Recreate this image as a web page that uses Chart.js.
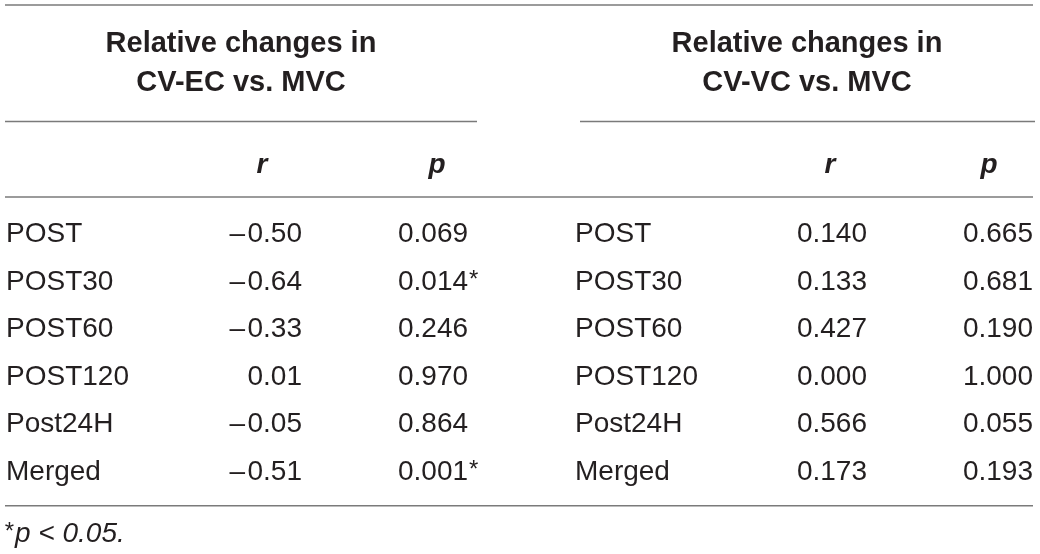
<!DOCTYPE html>
<html>
<head>
<meta charset="utf-8">
<script src="https://cdn.jsdelivr.net/npm/chart.js@4/dist/chart.umd.min.js"></script>
<style>
  html, body { margin: 0; padding: 0; background: #ffffff; }
  #wrap { width: 1040px; height: 554px; position: relative; }
</style>
</head>
<body>
<div id="wrap"><canvas id="tableChart"></canvas></div>
<script>
const rowLabels = ["POST", "POST30", "POST60", "POST120", "Post24H", "Merged"];
const groupTitles = [
  ["Relative changes in", "CV-EC vs. MVC"],
  ["Relative changes in", "CV-VC vs. MVC"]
];
const columnHeads = ["r", "p"];
const ecR = [-0.50, -0.64, -0.33, 0.01, -0.05, -0.51];
const ecP = [0.069, 0.014, 0.246, 0.970, 0.864, 0.001];
const vcR = [0.140, 0.133, 0.427, 0.000, 0.566, 0.173];
const vcP = [0.665, 0.681, 0.190, 1.000, 0.055, 0.193];
const alpha = 0.05;
const footnote = "p < 0.05.";

const ink = "#231f20";
const rule = "#7a7a7a";
const face = "'Liberation Sans', Arial, Helvetica, sans-serif";

// column anchors (x) and row positions (y, in row units) of the layout
const colX = { labelL: 6, rL: 302, pL: 398, labelR: 575, rR: 867, pR: 1033 };
const headX = { groupL: 241, groupR: 807, rL: 262, pL: 437, rR: 830, pR: 989 };
const rowY = { title1: -3.99, title2: -3.17, heads: -1.45, foot: 6.30 };
const ruleY = { top: -4.98, under: -2.53, heads: -0.945, bottom: 5.54 };

const fmtR = (v) => (v < 0 ? "\u2013\u200a" : "") + Math.abs(v).toFixed(2);
const fmtR3 = (v) => v.toFixed(3);
const fmtP = (v) => v.toFixed(3);
const rows = rowLabels.map((_, i) => i);

function textSet(x, ys, texts, font, align, stars) {
  return {
    type: "scatter",
    data: ys.map((y) => ({ x: x, y: y })),
    texts: texts,
    font: font,
    align: align,
    stars: stars || null,
    pointRadius: 0,
    pointHoverRadius: 0
  };
}

function hRule(x0, x1, y) {
  return {
    type: "line",
    data: [{ x: x0, y: y }, { x: x1, y: y }],
    borderColor: rule,
    borderWidth: 1.5,
    pointRadius: 0,
    pointHoverRadius: 0,
    fill: false
  };
}

const plain = "28px " + face;
const bold = "bold 29px " + face;
const boldItalic = "italic bold 28px " + face;
const italic = "italic 28px " + face;

const datasets = [
  hRule(5, 1033, ruleY.top),
  hRule(5, 477, ruleY.under),
  hRule(580, 1035, ruleY.under),
  hRule(5, 1033, ruleY.heads),
  hRule(5, 1033, ruleY.bottom),

  textSet(headX.groupL, [rowY.title1, rowY.title2], groupTitles[0], bold, "center"),
  textSet(headX.groupR, [rowY.title1, rowY.title2], groupTitles[1], bold, "center"),
  textSet(headX.rL, [rowY.heads], [columnHeads[0]], boldItalic, "center"),
  textSet(headX.pL, [rowY.heads], [columnHeads[1]], boldItalic, "center"),
  textSet(headX.rR, [rowY.heads], [columnHeads[0]], boldItalic, "center"),
  textSet(headX.pR, [rowY.heads], [columnHeads[1]], boldItalic, "center"),

  textSet(colX.labelL, rows, rowLabels, plain, "left"),
  textSet(colX.rL, rows, ecR.map(fmtR), plain, "right"),
  textSet(colX.pL, rows, ecP.map(fmtP), plain, "left", ecP.map((v) => v < alpha)),
  textSet(colX.labelR, rows, rowLabels, plain, "left"),
  textSet(colX.rR, rows, vcR.map(fmtR3), plain, "right"),
  textSet(colX.pR, rows, vcP.map(fmtP), plain, "right", vcP.map((v) => v < alpha)),

  Object.assign(textSet(15, [rowY.foot], [footnote], italic, "left"), { lead: "*" })
];

const tableText = {
  id: "tableText",
  afterDatasetsDraw(chart) {
    const ctx = chart.ctx;
    chart.data.datasets.forEach((ds, i) => {
      if (!ds.texts) return;
      const meta = chart.getDatasetMeta(i);
      ctx.save();
      ctx.fillStyle = ink;
      ctx.textBaseline = "alphabetic";
      meta.data.forEach((pt, j) => {
        ctx.font = ds.font;
        ctx.textAlign = ds.align;
        ctx.fillText(ds.texts[j], pt.x, pt.y);
        if (ds.stars && ds.stars[j]) {
          const w = ctx.measureText(ds.texts[j]).width;
          const right = ds.align === "right" ? pt.x : pt.x + w;
          ctx.font = "24px " + face;
          ctx.textAlign = "left";
          ctx.fillText("*", right + 1, pt.y - 3);
        }
        if (ds.lead) {
          ctx.font = "24px " + face;
          ctx.textAlign = "right";
          ctx.fillText(ds.lead, pt.x - 1, pt.y - 3);
        }
      });
      ctx.restore();
    });
  }
};

new Chart(document.getElementById("tableChart"), {
  type: "scatter",
  data: { datasets: datasets },
  options: {
    responsive: true,
    maintainAspectRatio: false,
    animation: false,
    events: [],
    layout: { padding: 0 },
    plugins: {
      legend: { display: false },
      tooltip: { enabled: false }
    },
    scales: {
      x: { type: "linear", min: 0, max: 1040, display: false },
      y: { type: "linear", min: -5.084, max: 6.555, reverse: true, display: false }
    }
  },
  plugins: [tableText]
});
</script>
</body>
</html>
